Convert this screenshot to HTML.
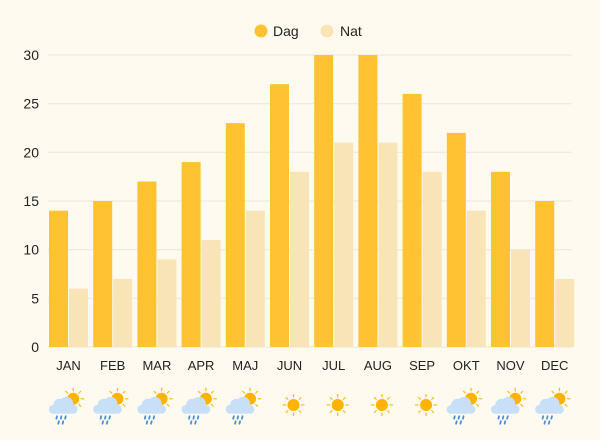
<!DOCTYPE html>
<html><head><meta charset="utf-8"><style>
html,body{margin:0;padding:0;background:#fffaf0;}
svg{display:block;font-family:"Liberation Sans",sans-serif;}
</style></head><body>
<svg width="600" height="440" viewBox="0 0 600 440" xmlns="http://www.w3.org/2000/svg">
<rect width="600" height="440" fill="#fffaf0"/>
<defs>
<g id="sun">
<g stroke="#fbbf24" stroke-width="1.3" stroke-linecap="round">
<line x1="0" y1="-8" x2="0" y2="-10.5"/><line x1="0" y1="8" x2="0" y2="10.5"/>
<line x1="-8" y1="0" x2="-10.5" y2="0"/><line x1="8" y1="0" x2="10.5" y2="0"/>
<line x1="5.7" y1="5.7" x2="7.4" y2="7.4"/><line x1="-5.7" y1="5.7" x2="-7.4" y2="7.4"/>
<line x1="5.7" y1="-5.7" x2="7.4" y2="-7.4"/><line x1="-5.7" y1="-5.7" x2="-7.4" y2="-7.4"/>
</g>
<circle r="6" fill="#fdb300"/>
</g>
<g id="rain">
<g transform="translate(7,-5) scale(0.8)"><use href="#sun"/></g>
<g fill="#c7e0f7">
<circle cx="-4" cy="0" r="5"/><circle cx="1.5" cy="-1" r="5.5"/><circle cx="-9" cy="3.5" r="3.5"/><circle cx="7" cy="3.5" r="3.5"/>
<rect x="-10" y="2" width="17" height="5" rx="2.5"/>
</g>
<g stroke="#4a8fd6" stroke-width="1.4" stroke-linecap="round">
<line x1="-6" y1="9" x2="-6.5" y2="11"/><line x1="-2.5" y1="9" x2="-3" y2="11"/><line x1="1" y1="9" x2="0.5" y2="11"/>
<line x1="-4.5" y1="13" x2="-5" y2="15"/><line x1="-1" y1="13" x2="-1.5" y2="15"/>
</g>
</g>
</defs>
<circle cx="261" cy="31" r="6.5" fill="#ffc233"/>
<text x="273" y="36" font-size="14" fill="#222">Dag</text>
<circle cx="327" cy="31" r="6.5" fill="#f9e4b7"/>
<text x="340" y="36" font-size="14" fill="#222">Nat</text>
<g stroke="#ebe6da" stroke-width="1">
<line x1="48" x2="572" y1="55" y2="55"/><line x1="48" x2="572" y1="103.7" y2="103.7"/>
<line x1="48" x2="572" y1="152.3" y2="152.3"/><line x1="48" x2="572" y1="201" y2="201"/>
<line x1="48" x2="572" y1="249.7" y2="249.7"/><line x1="48" x2="572" y1="298.3" y2="298.3"/>
<line x1="48" x2="572" y1="347" y2="347"/>
</g>
<g font-size="14" fill="#222" text-anchor="end">
<text x="39" y="60">30</text><text x="39" y="108.7">25</text><text x="39" y="157.3">20</text>
<text x="39" y="206">15</text><text x="39" y="254.7">10</text><text x="39" y="303.3">5</text><text x="39" y="352">0</text>
</g>
<g fill="#ffc233">
<rect x="49" y="210.7" width="19" height="136.3"/>
<rect x="93.2" y="201" width="19" height="146"/>
<rect x="137.4" y="181.5" width="19" height="165.5"/>
<rect x="181.6" y="162.1" width="19" height="184.9"/>
<rect x="225.8" y="123.1" width="19" height="223.9"/>
<rect x="270" y="84.2" width="19" height="262.8"/>
<rect x="314.2" y="55" width="19" height="292"/>
<rect x="358.4" y="55" width="19" height="292"/>
<rect x="402.6" y="93.9" width="19" height="253.1"/>
<rect x="446.8" y="132.9" width="19" height="214.1"/>
<rect x="491" y="171.8" width="19" height="175.2"/>
<rect x="535.2" y="201" width="19" height="146"/>
</g>
<g fill="#f9e4b7">
<rect x="69" y="288.6" width="19" height="58.4"/>
<rect x="113.2" y="278.9" width="19" height="68.1"/>
<rect x="157.4" y="259.4" width="19" height="87.6"/>
<rect x="201.6" y="239.9" width="19" height="107.1"/>
<rect x="245.8" y="210.7" width="19" height="136.3"/>
<rect x="290" y="171.8" width="19" height="175.2"/>
<rect x="334.2" y="142.6" width="19" height="204.4"/>
<rect x="378.4" y="142.6" width="19" height="204.4"/>
<rect x="422.6" y="171.8" width="19" height="175.2"/>
<rect x="466.8" y="210.7" width="19" height="136.3"/>
<rect x="511" y="249.7" width="19" height="97.3"/>
<rect x="555.2" y="278.9" width="19" height="68.1"/>
</g>
<g font-size="13" fill="#222" text-anchor="middle">
<text x="68.5" y="370">JAN</text><text x="112.7" y="370">FEB</text><text x="156.9" y="370">MAR</text>
<text x="201.1" y="370">APR</text><text x="245.3" y="370">MAJ</text><text x="289.5" y="370">JUN</text>
<text x="333.7" y="370">JUL</text><text x="377.9" y="370">AUG</text><text x="422.1" y="370">SEP</text>
<text x="466.3" y="370">OKT</text><text x="510.5" y="370">NOV</text><text x="554.7" y="370">DEC</text>
</g>
<g transform="translate(0,-1)">
<use href="#rain" transform="translate(64.5,406) scale(1.25)"/>
<use href="#rain" transform="translate(108.7,406) scale(1.25)"/>
<use href="#rain" transform="translate(152.9,406) scale(1.25)"/>
<use href="#rain" transform="translate(197.1,406) scale(1.25)"/>
<use href="#rain" transform="translate(241.3,406) scale(1.25)"/>
<use href="#rain" transform="translate(462.3,406) scale(1.25)"/>
<use href="#rain" transform="translate(506.5,406) scale(1.25)"/>
<use href="#rain" transform="translate(550.7,406) scale(1.25)"/>
</g>
<use href="#sun" transform="translate(293.5,405)"/>
<use href="#sun" transform="translate(337.7,405)"/>
<use href="#sun" transform="translate(381.9,405)"/>
<use href="#sun" transform="translate(426.1,405)"/>
</svg>
</body></html>
